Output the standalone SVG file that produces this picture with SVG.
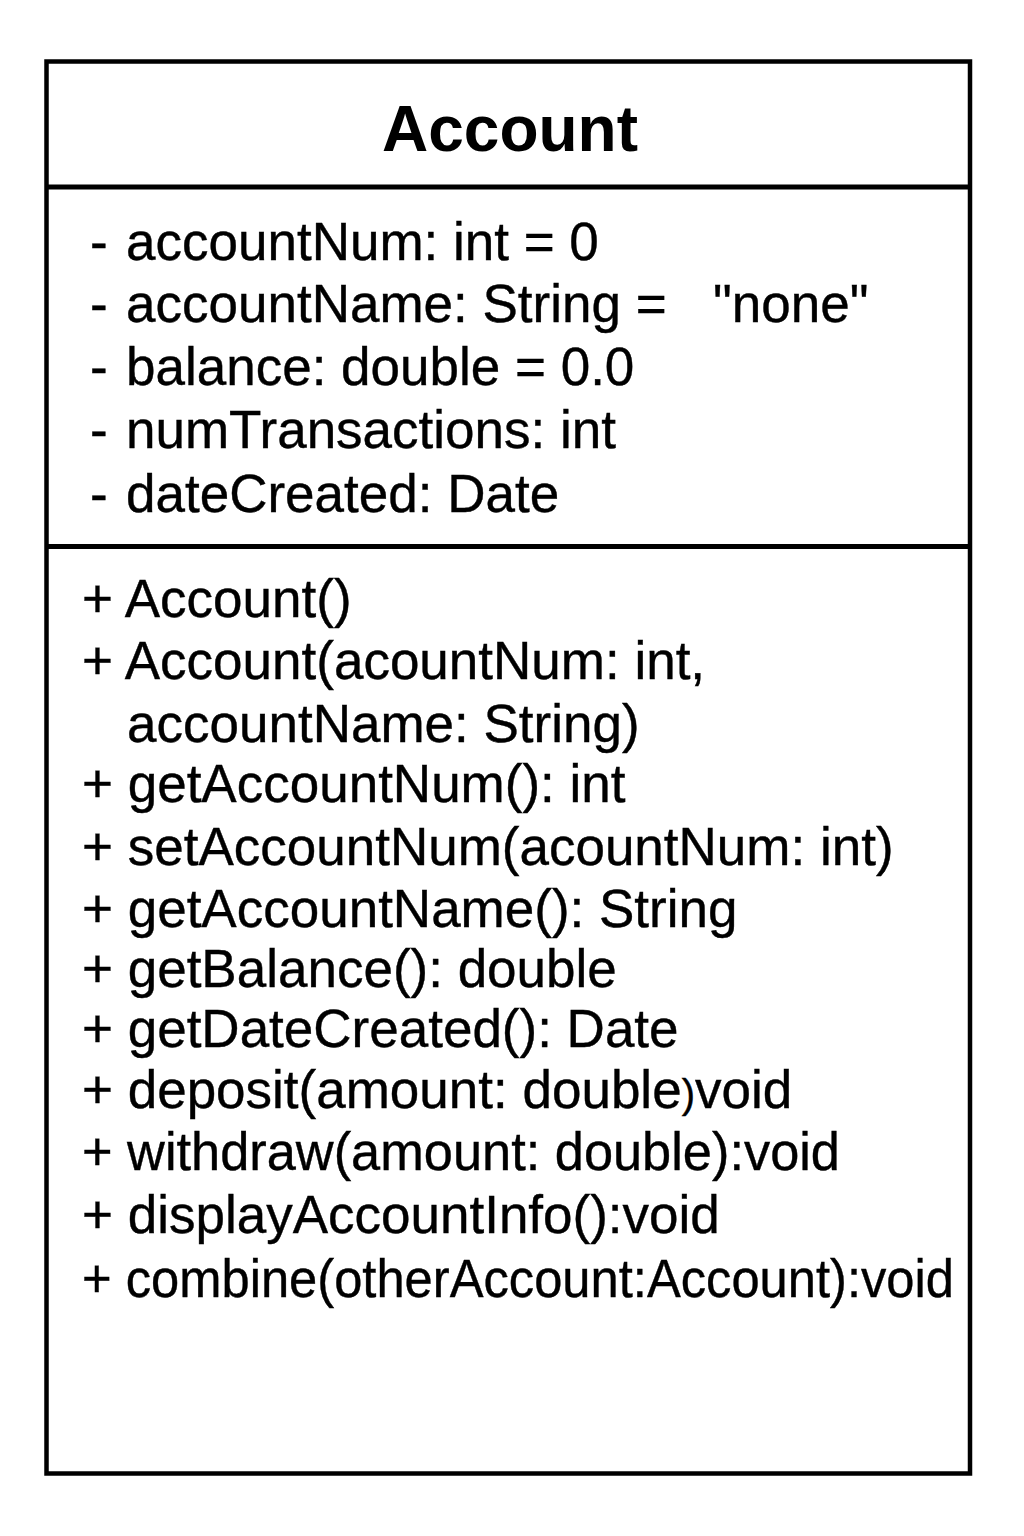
<svg xmlns="http://www.w3.org/2000/svg" width="1024" height="1536" viewBox="0 0 1024 1536">
<style>
.box{fill:#ffffff;stroke:#000000;stroke-width:4.5}
.div{stroke:#000000;stroke-width:5}
.title{font-family:"Liberation Sans",Arial,sans-serif;font-weight:bold;font-size:64px;fill:#000000;text-anchor:middle}
.t{font-family:"Liberation Sans",Arial,sans-serif;font-size:53px;fill:#000000;stroke:#000000;stroke-width:0.4}
</style>
<rect x="0" y="0" width="1024" height="1536" fill="#ffffff"/>
<g id="Account">
<rect class="box" x="46.5" y="61.5" width="923.5" height="1412"/>
<line class="div" x1="46.5" y1="187" x2="970" y2="187"/>
<line class="div" x1="46.5" y1="546.5" x2="970" y2="546.5"/>
<text class="title" x="510" y="151">Account</text>
<g id="attributes">
<text class="t" x="90" y="260">-<tspan x="126">accountNum: int = 0</tspan></text>
<text class="t" x="90" y="322">-<tspan x="126">accountName: String =</tspan><tspan x="713">"none"</tspan></text>
<text class="t" x="90" y="385">-<tspan x="126">balance: double = 0.0</tspan></text>
<text class="t" x="90" y="448">-<tspan x="126">numTransactions: int</tspan></text>
<text class="t" x="90" y="512">-<tspan x="126">dateCreated: Date</tspan></text>
</g>
<g id="operations">
<text class="t" x="82" y="617">+ Account()</text>
<text class="t" x="82" y="679">+ Account(acountNum: int,</text>
<text class="t" x="127" y="742">accountName: String)</text>
<text class="t" x="82" y="802">+ getAccountNum(): int</text>
<text class="t" x="82" y="865">+ setAccountNum(acountNum: int)</text>
<text class="t" x="82" y="927">+ getAccountName(): String</text>
<text class="t" x="82" y="987">+ getBalance(): double</text>
<text class="t" x="82" y="1047">+ getDateCreated(): Date</text>
<text class="t" x="82" y="1108">+ deposit(amount: double<tspan font-size="40">)</tspan>void</text>
<text class="t" x="82" y="1170" textLength="758" lengthAdjust="spacingAndGlyphs">+ withdraw(amount: double):void</text>
<text class="t" x="82" y="1233">+ displayAccountInfo():void</text>
<text class="t" x="82" y="1297" textLength="872" lengthAdjust="spacingAndGlyphs">+ combine(otherAccount:Account):void</text>
</g>
</g>
<g id="connectors"/>
</svg>
